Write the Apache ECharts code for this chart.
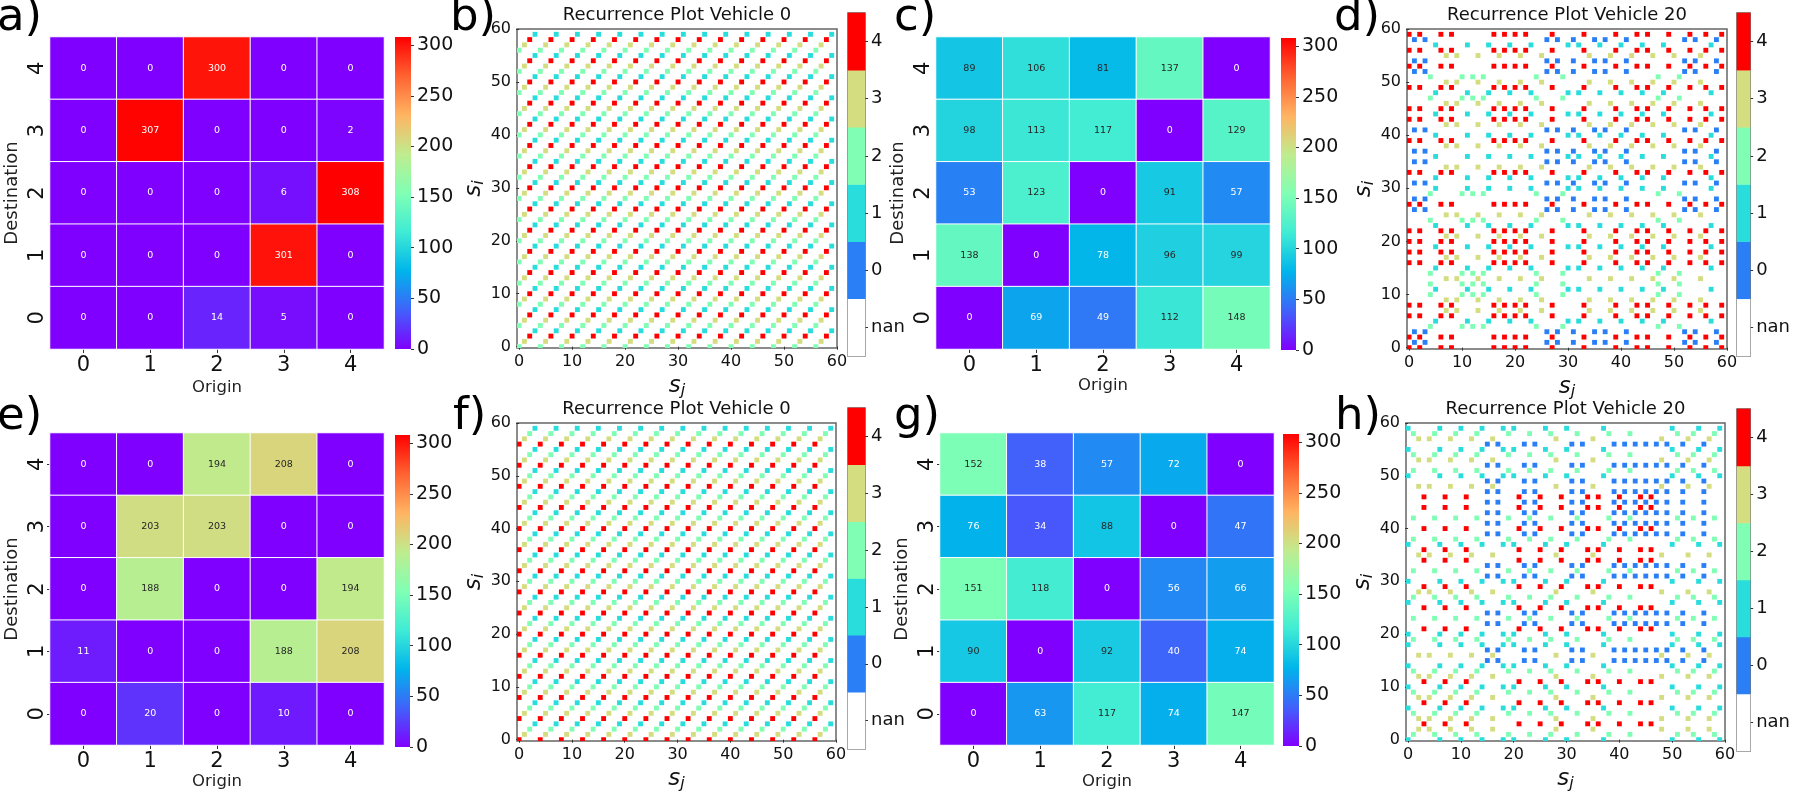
<!DOCTYPE html>
<html>
<head>
<meta charset="utf-8">
<title>Recurrence plots</title>
<script src="https://cdn.jsdelivr.net/npm/echarts@6/dist/echarts.min.js"></script>
<style>
  html, body { margin: 0; padding: 0; background: #fff; }
  #main { width: 1793px; height: 793px; }
</style>
</head>
<body>
<div id="main"></div>
<script>
const FONT = 'DejaVu Sans';

const odTicks = ['0', '1', '2', '3', '4'];
const stateTicks = ['nan', '0', '1', '2', '3', '4'];
const colorbarTicks = [0, 50, 100, 150, 200, 250, 300];
const sjTicks = [0, 10, 20, 30, 40, 50, 60];
const colorbarTop = [308];

// od matrices, first row is destination 4 (top of the picture)
const odA = [
  [0, 0, 300, 0, 0],
  [0, 307, 0, 0, 2],
  [0, 0, 0, 6, 308],
  [0, 0, 0, 301, 0],
  [0, 0, 14, 5, 0]
];
const odC = [
  [89, 106, 81, 137, 0],
  [98, 113, 117, 0, 129],
  [53, 123, 0, 91, 57],
  [138, 0, 78, 96, 99],
  [0, 69, 49, 112, 148]
];
const odE = [
  [0, 0, 194, 208, 0],
  [0, 203, 203, 0, 0],
  [0, 188, 0, 0, 194],
  [11, 0, 0, 188, 208],
  [0, 20, 0, 10, 0]
];
const odG = [
  [152, 38, 57, 72, 0],
  [76, 34, 88, 0, 47],
  [151, 118, 0, 56, 66],
  [90, 0, 92, 40, 74],
  [0, 63, 117, 74, 147]
];

const statesB = [
  2, 3, 4, 1, 2, 3, 4, 1, 2, 3, 4, 1, 2, 3, 4, 1, 2, 3, 4, 1,
  2, 3, 4, 1, 2, 3, 4, 1, 2, 3, 4, 1, 2, 3, 4, 1, 2, 3, 4, 1,
  2, 3, 4, 1, 2, 3, 4, 1, 2, 3, 4, 1, 2, 3, 4, 1, 2, 3, 4, 1
];
const statesD = [
  4, 0, 4, 0, 2, 1, 4, 3, 4, 3, 2, 1, 2, 3, 2, 1, 4, 3, 4, 1,
  4, 3, 4, 1, 2, 3, 0, 4, 0, 2, 1, 0, 1, 4, 3, 0, 1, 0, 3, 4,
  1, 0, 3, 4, 1, 4, 3, 2, 1, 4, 3, 2, 0, 4, 0, 3, 4, 1, 0, 4
];
const statesF = [
  4, 3, 2, 1, 4, 3, 2, 1, 4, 3, 2, 1, 4, 3, 2, 1, 4, 3, 2, 1,
  4, 3, 2, 1, 4, 3, 2, 1, 4, 3, 2, 1, 4, 3, 2, 1, 4, 3, 2, 1,
  4, 3, 2, 1, 4, 3, 2, 1, 4, 3, 2, 1, 4, 3, 2, 1, 4, 3, 2, 1
];
const statesH = [
  1, 2, 3, 4, 3, 2, 1, 4, 3, 2, 1, 4, 3, 2, 1, 0, 3, 0, 1, 2,
  1, 4, 0, 2, 0, 4, 1, 2, 3, 4, 1, 0, 2, 0, 4, 3, 4, 1, 2, 0,
  4, 0, 2, 0, 4, 0, 4, 0, 3, 0, 1, 2, 0, 3, 2, 1, 0, 3, 2, 1
];

const rainbow = ['#8000ff', '#4062fa', '#00b5eb', '#40ecd4', '#80ffb4', '#bfec8e', '#ffb462', '#ff6232', '#ff0000'];
const stateColors = ['#2a7ff6', '#2adddd', '#80ffb4', '#d4dd80', '#ff0000'];

const titles = [];
const grids = [];
const xAxes = [];
const yAxes = [];
const series = [];
const heatSeriesIds = [];

function addGrid(b, extra) {
  grids.push(Object.assign({ left: b.l, top: b.t, width: b.r - b.l, height: b.b - b.t, containLabel: false }, extra || {}));
  return grids.length - 1;
}

function letter(text, x, y) {
  titles.push({ text: text, left: x, top: y, padding: 0, textStyle: { fontFamily: FONT, fontSize: 45, fontWeight: 'normal', color: '#000' } });
}

// origin destination heatmap with its gradient colorbar
function addHeat(matrix, b, cb, yTicks) {
  const g = addGrid(b);
  xAxes.push({
    gridIndex: g, type: 'category', data: odTicks,
    name: 'Origin', nameLocation: 'middle', nameGap: b.originGap,
    nameTextStyle: { fontFamily: FONT, fontSize: 16.5, color: '#222' },
    axisLine: { show: false },
    axisTick: { show: true, alignWithLabel: true, length: 4, lineStyle: { color: '#333' } },
    axisLabel: { interval: 0, margin: 6, fontFamily: FONT, fontSize: 21, color: '#111' },
    splitLine: { show: false }
  });
  yAxes.push({
    gridIndex: g, type: 'category', data: odTicks,
    name: 'Destination', nameLocation: 'middle', nameGap: 29,
    nameTextStyle: { fontFamily: FONT, fontSize: 18, color: '#222' },
    axisLine: { show: false },
    axisTick: { show: yTicks, alignWithLabel: true, length: 3, lineStyle: { color: '#333' } },
    axisLabel: { interval: 0, rotate: 90, margin: 2, fontFamily: FONT, fontSize: 21, color: '#111' },
    splitLine: { show: false }
  });
  const data = [];
  matrix.forEach(function (row, r) {
    row.forEach(function (v, c) {
      // seaborn flips the annotation colour on light cells
      const dark = v >= 80 && v < 260;
      data.push({ value: [c, 4 - r, v], label: { color: dark ? '#262626' : '#fff' } });
    });
  });
  heatSeriesIds.push(series.length);
  series.push({
    type: 'heatmap', xAxisIndex: g, yAxisIndex: g, data: data,
    itemStyle: { borderColor: '#fff', borderWidth: 1 },
    label: { show: true, fontFamily: FONT, fontSize: 9.5 },
    emphasis: { disabled: true }
  });

  const cg = addGrid(cb);
  xAxes.push({ gridIndex: cg, type: 'category', data: ['v'], show: false });
  yAxes.push({
    gridIndex: cg, type: 'value', min: 0, max: colorbarTop[0], position: 'right',
    axisLine: { show: false },
    splitLine: { show: false },
    axisTick: { show: true, length: 3, customValues: colorbarTicks, lineStyle: { color: '#333' } },
    axisLabel: { customValues: colorbarTicks, margin: 6, fontFamily: FONT, fontSize: 19, color: '#111' }
  });
  series.push({
    type: 'bar', xAxisIndex: cg, yAxisIndex: cg, data: colorbarTop, barWidth: '100%', silent: true,
    itemStyle: {
      color: new echarts.graphic.LinearGradient(0, 1, 0, 0, rainbow.map(function (c, i) {
        return { offset: i / (rainbow.length - 1), color: c };
      }))
    }
  });
}

// recurrence plot: a cell is drawn where the vehicle is in the same state at i and j
function addRecurrence(states, name, b, cb) {
  const g = addGrid(b, { show: true, borderColor: '#666', borderWidth: 1.5, backgroundColor: '#fff' });
  const sub = {
    s: { fontFamily: FONT, fontStyle: 'italic', fontSize: 23, color: '#111' },
    j: { fontFamily: FONT, fontStyle: 'italic', fontSize: 16, color: '#111', verticalAlign: 'bottom', padding: [10, 0, 0, 0] }
  };
  const labelStyle = { customValues: sjTicks, fontFamily: FONT, fontSize: 16, color: '#111' };
  xAxes.push({
    gridIndex: g, type: 'value', min: -0.4, max: 60,
    name: '{s|s}{j|j}', nameLocation: 'middle', nameGap: 25, nameTextStyle: { rich: sub },
    axisLine: { show: false }, splitLine: { show: false },
    axisTick: { show: true, length: 3, customValues: sjTicks, lineStyle: { color: '#333' } },
    axisLabel: Object.assign({ margin: 6 }, labelStyle)
  });
  yAxes.push({
    gridIndex: g, type: 'value', min: -0.25, max: 60,
    name: '{s|s}{j|i}', nameLocation: 'middle', nameGap: 29, nameTextStyle: { rich: sub },
    axisLine: { show: false }, splitLine: { show: false },
    axisTick: { show: true, length: 3, customValues: sjTicks, lineStyle: { color: '#333' } },
    axisLabel: Object.assign({ margin: 6 }, labelStyle)
  });
  const data = [];
  states.forEach(function (si, i) {
    states.forEach(function (sj, j) {
      if (si === sj) data.push([j, i, si]);
    });
  });
  series.push({
    type: 'custom', xAxisIndex: g, yAxisIndex: g, data: data, clip: true, silent: true,
    encode: { x: 0, y: 1 },
    renderItem: function (params, api) {
      const c = api.coord([api.value(0), api.value(1)]);
      const s = api.size([1, 1]);
      const w = s[0] * 0.92;
      const h = s[1] * 0.92;
      return {
        type: 'rect',
        shape: { x: c[0] - w / 2, y: c[1] - h / 2, width: w, height: h },
        style: { fill: stateColors[api.value(2)] }
      };
    }
  });
  titles.push({
    text: name, left: (b.l + b.r) / 2, top: b.t - 23, textAlign: 'center', padding: 0,
    textStyle: { fontFamily: FONT, fontSize: 18, fontWeight: 'normal', color: '#111' }
  });

  const cg = addGrid(cb, { show: true, borderColor: '#666', borderWidth: 1.5, backgroundColor: '#fff' });
  xAxes.push({ gridIndex: cg, type: 'category', data: ['v'], show: false });
  yAxes.push({
    gridIndex: cg, type: 'category', data: stateTicks, position: 'right',
    axisLine: { show: false }, splitLine: { show: false },
    axisTick: { show: true, alignWithLabel: true, length: 3, lineStyle: { color: '#333' } },
    axisLabel: { interval: 0, margin: 6, fontFamily: FONT, fontSize: 18, color: '#111' }
  });
  series.push({
    type: 'heatmap', xAxisIndex: cg, yAxisIndex: cg, silent: true,
    data: stateTicks.map(function (t, i) {
      return { value: [0, i, i], itemStyle: { color: i === 0 ? '#fff' : stateColors[i - 1] } };
    })
  });
}

const chart = echarts.init(document.getElementById('main'));

addHeat(odA, { l: 50, r: 384, t: 37, b: 349, originGap: 30 }, { l: 395, r: 411, t: 37, b: 349 }, false);
addRecurrence(statesB, 'Recurrence Plot Vehicle 0', { l: 517, r: 837, t: 29, b: 348 }, { l: 848, r: 865, t: 13, b: 356 });
addHeat(odC, { l: 936, r: 1270, t: 37, b: 349, originGap: 26 }, { l: 1281, r: 1296, t: 38, b: 350 }, false);
addRecurrence(statesD, 'Recurrence Plot Vehicle 20', { l: 1407, r: 1727, t: 29, b: 349 }, { l: 1737, r: 1754, t: 13, b: 356 });
addHeat(odE, { l: 50, r: 384, t: 433, b: 745, originGap: 28 }, { l: 395, r: 410, t: 435, b: 747 }, true);
addRecurrence(statesF, 'Recurrence Plot Vehicle 0', { l: 517, r: 836, t: 423, b: 741 }, { l: 848, r: 865, t: 408, b: 749 });
addHeat(odG, { l: 940, r: 1274, t: 433, b: 745, originGap: 28 }, { l: 1283, r: 1299, t: 434, b: 746 }, true);
addRecurrence(statesH, 'Recurrence Plot Vehicle 20', { l: 1406, r: 1725, t: 423, b: 741 }, { l: 1737, r: 1754, t: 409, b: 751 });

letter('a)', -3, -4);
letter('b)', 450, -4);
letter('c)', 894, -4);
letter('d)', 1334, -4);
letter('e)', -3, 395);
letter('f)', 453, 395);
letter('g)', 894, 395);
letter('h)', 1335, 395);

chart.setOption({
  animation: false,
  backgroundColor: '#fff',
  title: titles,
  grid: grids,
  xAxis: xAxes,
  yAxis: yAxes,
  visualMap: {
    show: false, type: 'continuous', min: 0, max: colorbarTop[0],
    dimension: 2, seriesIndex: heatSeriesIds,
    inRange: { color: rainbow }
  },
  series: series
});
</script>
</body>
</html>
